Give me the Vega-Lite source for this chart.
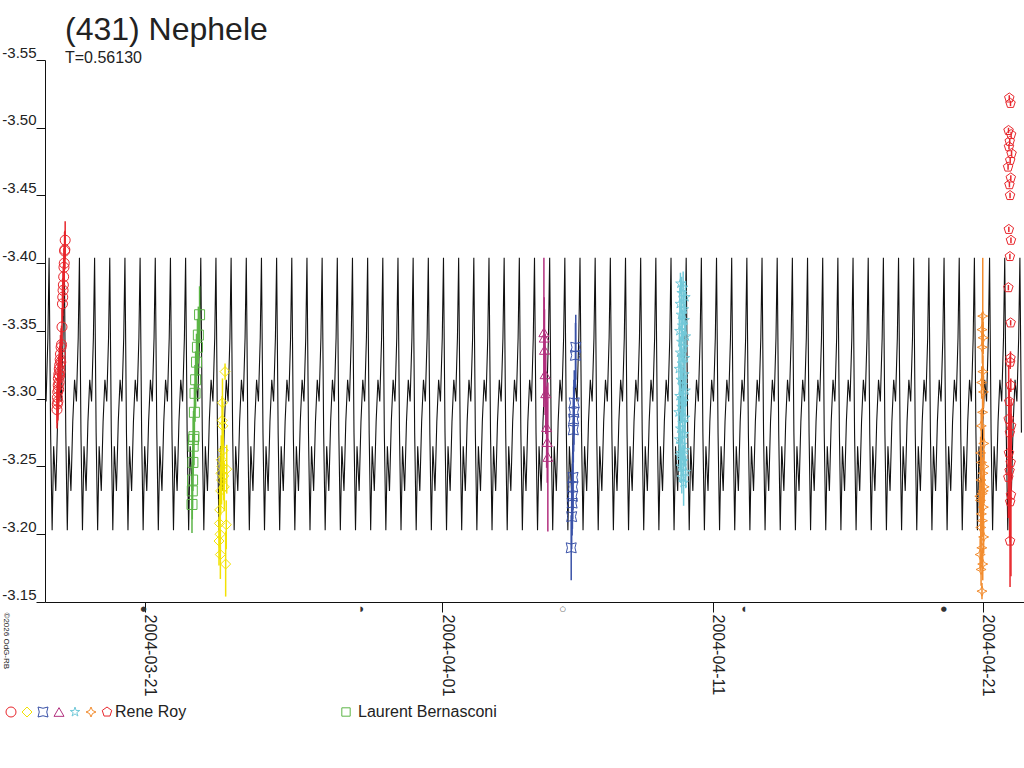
{
  "$schema": "https://vega.github.io/schema/vega-lite/v6.json",
  "width": 979,
  "height": 542,
  "autosize": "none",
  "padding": {"left": 45, "top": 60, "right": 0, "bottom": 166},
  "background": "white",
  "title": {
    "text": "(431) Nephele",
    "subtitle": "T=0.56130",
    "anchor": "start",
    "frame": "group",
    "dx": 20,
    "offset": -22,
    "font": "Liberation Sans",
    "fontSize": 32,
    "fontWeight": "normal",
    "color": "#222",
    "subtitleFont": "Liberation Sans",
    "subtitleFontSize": 16,
    "subtitleColor": "#222",
    "subtitlePadding": 3
  },
  "datasets": {
    "curve": [
      {"c":-0.2,"m":-3.298},{"c":-0.08,"m":-3.345},
      {"c":0,"m":-3.404},{"c":0.1,"m":-3.275},{"c":0.2,"m":-3.203},{"c":0.3,"m":-3.265},{"c":0.44,"m":-3.232},{"c":0.56,"m":-3.283},{"c":0.68,"m":-3.314},{"c":0.8,"m":-3.298},{"c":0.92,"m":-3.345},
      {"c":1,"m":-3.404},{"c":1.1,"m":-3.275},{"c":1.2,"m":-3.203},{"c":1.3,"m":-3.265},{"c":1.44,"m":-3.232},{"c":1.56,"m":-3.283},{"c":1.68,"m":-3.314},{"c":1.8,"m":-3.298},{"c":1.92,"m":-3.345},
      {"c":2,"m":-3.404},{"c":2.1,"m":-3.275},{"c":2.2,"m":-3.203},{"c":2.3,"m":-3.265},{"c":2.44,"m":-3.232},{"c":2.56,"m":-3.283},{"c":2.68,"m":-3.314},{"c":2.8,"m":-3.298},{"c":2.92,"m":-3.345},
      {"c":3,"m":-3.404},{"c":3.1,"m":-3.275},{"c":3.2,"m":-3.203},{"c":3.3,"m":-3.265},{"c":3.44,"m":-3.232},{"c":3.56,"m":-3.283},{"c":3.68,"m":-3.314},{"c":3.8,"m":-3.298},{"c":3.92,"m":-3.345},
      {"c":4,"m":-3.404},{"c":4.1,"m":-3.275},{"c":4.2,"m":-3.203},{"c":4.3,"m":-3.265},{"c":4.44,"m":-3.232},{"c":4.56,"m":-3.283},{"c":4.68,"m":-3.314},{"c":4.8,"m":-3.298},{"c":4.92,"m":-3.345},
      {"c":5,"m":-3.404},{"c":5.1,"m":-3.275},{"c":5.2,"m":-3.203},{"c":5.3,"m":-3.265},{"c":5.44,"m":-3.232},{"c":5.56,"m":-3.283},{"c":5.68,"m":-3.314},{"c":5.8,"m":-3.298},{"c":5.92,"m":-3.345},
      {"c":6,"m":-3.404},{"c":6.1,"m":-3.275},{"c":6.2,"m":-3.203},{"c":6.3,"m":-3.265},{"c":6.44,"m":-3.232},{"c":6.56,"m":-3.283},{"c":6.68,"m":-3.314},{"c":6.8,"m":-3.298},{"c":6.92,"m":-3.345},
      {"c":7,"m":-3.404},{"c":7.1,"m":-3.275},{"c":7.2,"m":-3.203},{"c":7.3,"m":-3.265},{"c":7.44,"m":-3.232},{"c":7.56,"m":-3.283},{"c":7.68,"m":-3.314},{"c":7.8,"m":-3.298},{"c":7.92,"m":-3.345},
      {"c":8,"m":-3.404},{"c":8.1,"m":-3.275},{"c":8.2,"m":-3.203},{"c":8.3,"m":-3.265},{"c":8.44,"m":-3.232},{"c":8.56,"m":-3.283},{"c":8.68,"m":-3.314},{"c":8.8,"m":-3.298},{"c":8.92,"m":-3.345},
      {"c":9,"m":-3.404},{"c":9.1,"m":-3.275},{"c":9.2,"m":-3.203},{"c":9.3,"m":-3.265},{"c":9.44,"m":-3.232},{"c":9.56,"m":-3.283},{"c":9.68,"m":-3.314},{"c":9.8,"m":-3.298},{"c":9.92,"m":-3.345},
      {"c":10,"m":-3.404},{"c":10.1,"m":-3.275},{"c":10.2,"m":-3.203},{"c":10.3,"m":-3.265},{"c":10.44,"m":-3.232},{"c":10.56,"m":-3.283},{"c":10.68,"m":-3.314},{"c":10.8,"m":-3.298},{"c":10.92,"m":-3.345},
      {"c":11,"m":-3.404},{"c":11.1,"m":-3.275},{"c":11.2,"m":-3.203},{"c":11.3,"m":-3.265},{"c":11.44,"m":-3.232},{"c":11.56,"m":-3.283},{"c":11.68,"m":-3.314},{"c":11.8,"m":-3.298},{"c":11.92,"m":-3.345},
      {"c":12,"m":-3.404},{"c":12.1,"m":-3.275},{"c":12.2,"m":-3.203},{"c":12.3,"m":-3.265},{"c":12.44,"m":-3.232},{"c":12.56,"m":-3.283},{"c":12.68,"m":-3.314},{"c":12.8,"m":-3.298},{"c":12.92,"m":-3.345},
      {"c":13,"m":-3.404},{"c":13.1,"m":-3.275},{"c":13.2,"m":-3.203},{"c":13.3,"m":-3.265},{"c":13.44,"m":-3.232},{"c":13.56,"m":-3.283},{"c":13.68,"m":-3.314},{"c":13.8,"m":-3.298},{"c":13.92,"m":-3.345},
      {"c":14,"m":-3.404},{"c":14.1,"m":-3.275},{"c":14.2,"m":-3.203},{"c":14.3,"m":-3.265},{"c":14.44,"m":-3.232},{"c":14.56,"m":-3.283},{"c":14.68,"m":-3.314},{"c":14.8,"m":-3.298},{"c":14.92,"m":-3.345},
      {"c":15,"m":-3.404},{"c":15.1,"m":-3.275},{"c":15.2,"m":-3.203},{"c":15.3,"m":-3.265},{"c":15.44,"m":-3.232},{"c":15.56,"m":-3.283},{"c":15.68,"m":-3.314},{"c":15.8,"m":-3.298},{"c":15.92,"m":-3.345},
      {"c":16,"m":-3.404},{"c":16.1,"m":-3.275},{"c":16.2,"m":-3.203},{"c":16.3,"m":-3.265},{"c":16.44,"m":-3.232},{"c":16.56,"m":-3.283},{"c":16.68,"m":-3.314},{"c":16.8,"m":-3.298},{"c":16.92,"m":-3.345},
      {"c":17,"m":-3.404},{"c":17.1,"m":-3.275},{"c":17.2,"m":-3.203},{"c":17.3,"m":-3.265},{"c":17.44,"m":-3.232},{"c":17.56,"m":-3.283},{"c":17.68,"m":-3.314},{"c":17.8,"m":-3.298},{"c":17.92,"m":-3.345},
      {"c":18,"m":-3.404},{"c":18.1,"m":-3.275},{"c":18.2,"m":-3.203},{"c":18.3,"m":-3.265},{"c":18.44,"m":-3.232},{"c":18.56,"m":-3.283},{"c":18.68,"m":-3.314},{"c":18.8,"m":-3.298},{"c":18.92,"m":-3.345},
      {"c":19,"m":-3.404},{"c":19.1,"m":-3.275},{"c":19.2,"m":-3.203},{"c":19.3,"m":-3.265},{"c":19.44,"m":-3.232},{"c":19.56,"m":-3.283},{"c":19.68,"m":-3.314},{"c":19.8,"m":-3.298},{"c":19.92,"m":-3.345},
      {"c":20,"m":-3.404},{"c":20.1,"m":-3.275},{"c":20.2,"m":-3.203},{"c":20.3,"m":-3.265},{"c":20.44,"m":-3.232},{"c":20.56,"m":-3.283},{"c":20.68,"m":-3.314},{"c":20.8,"m":-3.298},{"c":20.92,"m":-3.345},
      {"c":21,"m":-3.404},{"c":21.1,"m":-3.275},{"c":21.2,"m":-3.203},{"c":21.3,"m":-3.265},{"c":21.44,"m":-3.232},{"c":21.56,"m":-3.283},{"c":21.68,"m":-3.314},{"c":21.8,"m":-3.298},{"c":21.92,"m":-3.345},
      {"c":22,"m":-3.404},{"c":22.1,"m":-3.275},{"c":22.2,"m":-3.203},{"c":22.3,"m":-3.265},{"c":22.44,"m":-3.232},{"c":22.56,"m":-3.283},{"c":22.68,"m":-3.314},{"c":22.8,"m":-3.298},{"c":22.92,"m":-3.345},
      {"c":23,"m":-3.404},{"c":23.1,"m":-3.275},{"c":23.2,"m":-3.203},{"c":23.3,"m":-3.265},{"c":23.44,"m":-3.232},{"c":23.56,"m":-3.283},{"c":23.68,"m":-3.314},{"c":23.8,"m":-3.298},{"c":23.92,"m":-3.345},
      {"c":24,"m":-3.404},{"c":24.1,"m":-3.275},{"c":24.2,"m":-3.203},{"c":24.3,"m":-3.265},{"c":24.44,"m":-3.232},{"c":24.56,"m":-3.283},{"c":24.68,"m":-3.314},{"c":24.8,"m":-3.298},{"c":24.92,"m":-3.345},
      {"c":25,"m":-3.404},{"c":25.1,"m":-3.275},{"c":25.2,"m":-3.203},{"c":25.3,"m":-3.265},{"c":25.44,"m":-3.232},{"c":25.56,"m":-3.283},{"c":25.68,"m":-3.314},{"c":25.8,"m":-3.298},{"c":25.92,"m":-3.345},
      {"c":26,"m":-3.404},{"c":26.1,"m":-3.275},{"c":26.2,"m":-3.203},{"c":26.3,"m":-3.265},{"c":26.44,"m":-3.232},{"c":26.56,"m":-3.283},{"c":26.68,"m":-3.314},{"c":26.8,"m":-3.298},{"c":26.92,"m":-3.345},
      {"c":27,"m":-3.404},{"c":27.1,"m":-3.275},{"c":27.2,"m":-3.203},{"c":27.3,"m":-3.265},{"c":27.44,"m":-3.232},{"c":27.56,"m":-3.283},{"c":27.68,"m":-3.314},{"c":27.8,"m":-3.298},{"c":27.92,"m":-3.345},
      {"c":28,"m":-3.404},{"c":28.1,"m":-3.275},{"c":28.2,"m":-3.203},{"c":28.3,"m":-3.265},{"c":28.44,"m":-3.232},{"c":28.56,"m":-3.283},{"c":28.68,"m":-3.314},{"c":28.8,"m":-3.298},{"c":28.92,"m":-3.345},
      {"c":29,"m":-3.404},{"c":29.1,"m":-3.275},{"c":29.2,"m":-3.203},{"c":29.3,"m":-3.265},{"c":29.44,"m":-3.232},{"c":29.56,"m":-3.283},{"c":29.68,"m":-3.314},{"c":29.8,"m":-3.298},{"c":29.92,"m":-3.345},
      {"c":30,"m":-3.404},{"c":30.1,"m":-3.275},{"c":30.2,"m":-3.203},{"c":30.3,"m":-3.265},{"c":30.44,"m":-3.232},{"c":30.56,"m":-3.283},{"c":30.68,"m":-3.314},{"c":30.8,"m":-3.298},{"c":30.92,"m":-3.345},
      {"c":31,"m":-3.404},{"c":31.1,"m":-3.275},{"c":31.2,"m":-3.203},{"c":31.3,"m":-3.265},{"c":31.44,"m":-3.232},{"c":31.56,"m":-3.283},{"c":31.68,"m":-3.314},{"c":31.8,"m":-3.298},{"c":31.92,"m":-3.345},
      {"c":32,"m":-3.404},{"c":32.1,"m":-3.275},{"c":32.2,"m":-3.203},{"c":32.3,"m":-3.265},{"c":32.44,"m":-3.232},{"c":32.56,"m":-3.283},{"c":32.68,"m":-3.314},{"c":32.8,"m":-3.298},{"c":32.92,"m":-3.345},
      {"c":33,"m":-3.404},{"c":33.1,"m":-3.275},{"c":33.2,"m":-3.203},{"c":33.3,"m":-3.265},{"c":33.44,"m":-3.232},{"c":33.56,"m":-3.283},{"c":33.68,"m":-3.314},{"c":33.8,"m":-3.298},{"c":33.92,"m":-3.345},
      {"c":34,"m":-3.404},{"c":34.1,"m":-3.275},{"c":34.2,"m":-3.203},{"c":34.3,"m":-3.265},{"c":34.44,"m":-3.232},{"c":34.56,"m":-3.283},{"c":34.68,"m":-3.314},{"c":34.8,"m":-3.298},{"c":34.92,"m":-3.345},
      {"c":35,"m":-3.404},{"c":35.1,"m":-3.275},{"c":35.2,"m":-3.203},{"c":35.3,"m":-3.265},{"c":35.44,"m":-3.232},{"c":35.56,"m":-3.283},{"c":35.68,"m":-3.314},{"c":35.8,"m":-3.298},{"c":35.92,"m":-3.345},
      {"c":36,"m":-3.404},{"c":36.1,"m":-3.275},{"c":36.2,"m":-3.203},{"c":36.3,"m":-3.265},{"c":36.44,"m":-3.232},{"c":36.56,"m":-3.283},{"c":36.68,"m":-3.314},{"c":36.8,"m":-3.298},{"c":36.92,"m":-3.345},
      {"c":37,"m":-3.404},{"c":37.1,"m":-3.275},{"c":37.2,"m":-3.203},{"c":37.3,"m":-3.265},{"c":37.44,"m":-3.232},{"c":37.56,"m":-3.283},{"c":37.68,"m":-3.314},{"c":37.8,"m":-3.298},{"c":37.92,"m":-3.345},
      {"c":38,"m":-3.404},{"c":38.1,"m":-3.275},{"c":38.2,"m":-3.203},{"c":38.3,"m":-3.265},{"c":38.44,"m":-3.232},{"c":38.56,"m":-3.283},{"c":38.68,"m":-3.314},{"c":38.8,"m":-3.298},{"c":38.92,"m":-3.345},
      {"c":39,"m":-3.404},{"c":39.1,"m":-3.275},{"c":39.2,"m":-3.203},{"c":39.3,"m":-3.265},{"c":39.44,"m":-3.232},{"c":39.56,"m":-3.283},{"c":39.68,"m":-3.314},{"c":39.8,"m":-3.298},{"c":39.92,"m":-3.345},
      {"c":40,"m":-3.404},{"c":40.1,"m":-3.275},{"c":40.2,"m":-3.203},{"c":40.3,"m":-3.265},{"c":40.44,"m":-3.232},{"c":40.56,"m":-3.283},{"c":40.68,"m":-3.314},{"c":40.8,"m":-3.298},{"c":40.92,"m":-3.345},
      {"c":41,"m":-3.404},{"c":41.1,"m":-3.275},{"c":41.2,"m":-3.203},{"c":41.3,"m":-3.265},{"c":41.44,"m":-3.232},{"c":41.56,"m":-3.283},{"c":41.68,"m":-3.314},{"c":41.8,"m":-3.298},{"c":41.92,"m":-3.345},
      {"c":42,"m":-3.404},{"c":42.1,"m":-3.275},{"c":42.2,"m":-3.203},{"c":42.3,"m":-3.265},{"c":42.44,"m":-3.232},{"c":42.56,"m":-3.283},{"c":42.68,"m":-3.314},{"c":42.8,"m":-3.298},{"c":42.92,"m":-3.345},
      {"c":43,"m":-3.404},{"c":43.1,"m":-3.275},{"c":43.2,"m":-3.203},{"c":43.3,"m":-3.265},{"c":43.44,"m":-3.232},{"c":43.56,"m":-3.283},{"c":43.68,"m":-3.314},{"c":43.8,"m":-3.298},{"c":43.92,"m":-3.345},
      {"c":44,"m":-3.404},{"c":44.1,"m":-3.275},{"c":44.2,"m":-3.203},{"c":44.3,"m":-3.265},{"c":44.44,"m":-3.232},{"c":44.56,"m":-3.283},{"c":44.68,"m":-3.314},{"c":44.8,"m":-3.298},{"c":44.92,"m":-3.345},
      {"c":45,"m":-3.404},{"c":45.1,"m":-3.275},{"c":45.2,"m":-3.203},{"c":45.3,"m":-3.265},{"c":45.44,"m":-3.232},{"c":45.56,"m":-3.283},{"c":45.68,"m":-3.314},{"c":45.8,"m":-3.298},{"c":45.92,"m":-3.345},
      {"c":46,"m":-3.404},{"c":46.1,"m":-3.275},{"c":46.2,"m":-3.203},{"c":46.3,"m":-3.265},{"c":46.44,"m":-3.232},{"c":46.56,"m":-3.283},{"c":46.68,"m":-3.314},{"c":46.8,"m":-3.298},{"c":46.92,"m":-3.345},
      {"c":47,"m":-3.404},{"c":47.1,"m":-3.275},{"c":47.2,"m":-3.203},{"c":47.3,"m":-3.265},{"c":47.44,"m":-3.232},{"c":47.56,"m":-3.283},{"c":47.68,"m":-3.314},{"c":47.8,"m":-3.298},{"c":47.92,"m":-3.345},
      {"c":48,"m":-3.404},{"c":48.1,"m":-3.275},{"c":48.2,"m":-3.203},{"c":48.3,"m":-3.265},{"c":48.44,"m":-3.232},{"c":48.56,"m":-3.283},{"c":48.68,"m":-3.314},{"c":48.8,"m":-3.298},{"c":48.92,"m":-3.345},
      {"c":49,"m":-3.404},{"c":49.1,"m":-3.275},{"c":49.2,"m":-3.203},{"c":49.3,"m":-3.265},{"c":49.44,"m":-3.232},{"c":49.56,"m":-3.283},{"c":49.68,"m":-3.314},{"c":49.8,"m":-3.298},{"c":49.92,"m":-3.345},
      {"c":50,"m":-3.404},{"c":50.1,"m":-3.275},{"c":50.2,"m":-3.203},{"c":50.3,"m":-3.265},{"c":50.44,"m":-3.232},{"c":50.56,"m":-3.283},{"c":50.68,"m":-3.314},{"c":50.8,"m":-3.298},{"c":50.92,"m":-3.345},
      {"c":51,"m":-3.404},{"c":51.1,"m":-3.275},{"c":51.2,"m":-3.203},{"c":51.3,"m":-3.265},{"c":51.44,"m":-3.232},{"c":51.56,"m":-3.283},{"c":51.68,"m":-3.314},{"c":51.8,"m":-3.298},{"c":51.92,"m":-3.345},
      {"c":52,"m":-3.404},{"c":52.1,"m":-3.275},{"c":52.2,"m":-3.203},{"c":52.3,"m":-3.265},{"c":52.44,"m":-3.232},{"c":52.56,"m":-3.283},{"c":52.68,"m":-3.314},{"c":52.8,"m":-3.298},{"c":52.92,"m":-3.345},
      {"c":53,"m":-3.404},{"c":53.1,"m":-3.275},{"c":53.2,"m":-3.203},{"c":53.3,"m":-3.265},{"c":53.44,"m":-3.232},{"c":53.56,"m":-3.283},{"c":53.68,"m":-3.314},{"c":53.8,"m":-3.298},{"c":53.92,"m":-3.345},
      {"c":54,"m":-3.404},{"c":54.1,"m":-3.275},{"c":54.2,"m":-3.203},{"c":54.3,"m":-3.265},{"c":54.44,"m":-3.232},{"c":54.56,"m":-3.283},{"c":54.68,"m":-3.314},{"c":54.8,"m":-3.298},{"c":54.92,"m":-3.345},
      {"c":55,"m":-3.404},{"c":55.1,"m":-3.275},{"c":55.2,"m":-3.203},{"c":55.3,"m":-3.265},{"c":55.44,"m":-3.232},{"c":55.56,"m":-3.283},{"c":55.68,"m":-3.314},{"c":55.8,"m":-3.298},{"c":55.92,"m":-3.345},
      {"c":56,"m":-3.404},{"c":56.1,"m":-3.275},{"c":56.2,"m":-3.203},{"c":56.3,"m":-3.265},{"c":56.44,"m":-3.232},{"c":56.56,"m":-3.283},{"c":56.68,"m":-3.314},{"c":56.8,"m":-3.298},{"c":56.92,"m":-3.345},
      {"c":57,"m":-3.404},{"c":57.1,"m":-3.275},{"c":57.2,"m":-3.203},{"c":57.3,"m":-3.265},{"c":57.44,"m":-3.232},{"c":57.56,"m":-3.283},{"c":57.68,"m":-3.314},{"c":57.8,"m":-3.298},{"c":57.92,"m":-3.345},
      {"c":58,"m":-3.404},{"c":58.1,"m":-3.275},{"c":58.2,"m":-3.203},{"c":58.3,"m":-3.265},{"c":58.44,"m":-3.232},{"c":58.56,"m":-3.283},{"c":58.68,"m":-3.314},{"c":58.8,"m":-3.298},{"c":58.92,"m":-3.345},
      {"c":59,"m":-3.404},{"c":59.1,"m":-3.275},{"c":59.2,"m":-3.203},{"c":59.3,"m":-3.265},{"c":59.44,"m":-3.232},{"c":59.56,"m":-3.283},{"c":59.68,"m":-3.314},{"c":59.8,"m":-3.298},{"c":59.92,"m":-3.345},
      {"c":60,"m":-3.404},{"c":60.1,"m":-3.275},{"c":60.2,"m":-3.203},{"c":60.3,"m":-3.265},{"c":60.44,"m":-3.232},{"c":60.56,"m":-3.283},{"c":60.68,"m":-3.314},{"c":60.8,"m":-3.298},{"c":60.92,"m":-3.345},
      {"c":61,"m":-3.404},{"c":61.1,"m":-3.275},{"c":61.2,"m":-3.203},{"c":61.3,"m":-3.265},{"c":61.44,"m":-3.232},{"c":61.56,"m":-3.283},{"c":61.68,"m":-3.314},{"c":61.8,"m":-3.298},{"c":61.92,"m":-3.345},
      {"c":62,"m":-3.404},{"c":62.1,"m":-3.275},{"c":62.2,"m":-3.203},{"c":62.3,"m":-3.265},{"c":62.44,"m":-3.232},{"c":62.56,"m":-3.283},{"c":62.68,"m":-3.314},{"c":62.8,"m":-3.298},{"c":62.92,"m":-3.345},
      {"c":63,"m":-3.404},{"c":63.1,"m":-3.275},{"c":63.2,"m":-3.203},{"c":63.3,"m":-3.265},{"c":63.44,"m":-3.232},{"c":63.56,"m":-3.283},{"c":63.68,"m":-3.314},{"c":63.8,"m":-3.298},{"c":63.92,"m":-3.345},
      {"c":64,"m":-3.404},{"c":64.1,"m":-3.275}
    ],
    "rr": [
      {"c":0.52,"m":-3.292,"e":0.014,"s":"1"},{"c":0.54,"m":-3.296,"e":0.014,"s":"1"},{"c":0.55,"m":-3.301,"e":0.014,"s":"1"},{"c":0.57,"m":-3.305,"e":0.014,"s":"1"},{"c":0.58,"m":-3.298,"e":0.014,"s":"1"},{"c":0.6,"m":-3.31,"e":0.014,"s":"1"},{"c":0.61,"m":-3.315,"e":0.014,"s":"1"},{"c":0.63,"m":-3.307,"e":0.014,"s":"1"},{"c":0.64,"m":-3.318,"e":0.014,"s":"1"},{"c":0.66,"m":-3.312,"e":0.014,"s":"1"},
      {"c":0.67,"m":-3.322,"e":0.014,"s":"1"},{"c":0.69,"m":-3.317,"e":0.014,"s":"1"},{"c":0.7,"m":-3.325,"e":0.014,"s":"1"},{"c":0.72,"m":-3.32,"e":0.014,"s":"1"},{"c":0.73,"m":-3.329,"e":0.014,"s":"1"},{"c":0.75,"m":-3.333,"e":0.014,"s":"1"},{"c":0.77,"m":-3.327,"e":0.014,"s":"1"},{"c":0.79,"m":-3.338,"e":0.014,"s":"1"},{"c":0.82,"m":-3.34,"e":0.014,"s":"1"},{"c":0.85,"m":-3.353,"e":0.014,"s":"1"},
      {"c":0.88,"m":-3.37,"e":0.014,"s":"1"},{"c":0.9,"m":-3.375,"e":0.014,"s":"1"},{"c":0.92,"m":-3.38,"e":0.014,"s":"1"},{"c":0.94,"m":-3.384,"e":0.014,"s":"1"},{"c":0.96,"m":-3.39,"e":0.014,"s":"1"},{"c":0.98,"m":-3.397,"e":0.014,"s":"1"},{"c":1,"m":-3.4,"e":0.014,"s":"1"},{"c":1.02,"m":-3.409,"e":0.014,"s":"1"},{"c":1.04,"m":-3.41,"e":0.014,"s":"1"},{"c":1.06,"m":-3.417,"e":0.014,"s":"1"},
      {"c":11.2,"m":-3.195,"e":0.018,"s":"2"},{"c":11.23,"m":-3.208,"e":0.018,"s":"2"},{"c":11.25,"m":-3.218,"e":0.018,"s":"2"},{"c":11.27,"m":-3.2,"e":0.018,"s":"2"},{"c":11.29,"m":-3.185,"e":0.018,"s":"2"},{"c":11.31,"m":-3.232,"e":0.018,"s":"2"},{"c":11.33,"m":-3.245,"e":0.018,"s":"2"},{"c":11.35,"m":-3.255,"e":0.018,"s":"2"},{"c":11.37,"m":-3.24,"e":0.018,"s":"2"},{"c":11.39,"m":-3.25,"e":0.018,"s":"2"},
      {"c":11.41,"m":-3.284,"e":0.018,"s":"2"},{"c":11.43,"m":-3.297,"e":0.018,"s":"2"},{"c":11.45,"m":-3.28,"e":0.018,"s":"2"},{"c":11.48,"m":-3.262,"e":0.018,"s":"2"},{"c":11.51,"m":-3.243,"e":0.018,"s":"2"},{"c":11.55,"m":-3.235,"e":0.018,"s":"2"},{"c":11.6,"m":-3.32,"e":0.006,"s":"2"},{"c":11.64,"m":-3.178,"e":0.024,"s":"2"},{"c":11.68,"m":-3.207,"e":0.018,"s":"2"},{"c":11.71,"m":-3.248,"e":0.018,"s":"2"},
      {"c":34.42,"m":-3.19,"e":0.024,"s":"3"},{"c":34.45,"m":-3.213,"e":0.024,"s":"3"},{"c":34.48,"m":-3.223,"e":0.024,"s":"3"},{"c":34.5,"m":-3.228,"e":0.024,"s":"3"},{"c":34.52,"m":-3.235,"e":0.024,"s":"3"},{"c":34.54,"m":-3.242,"e":0.024,"s":"3"},{"c":34.56,"m":-3.277,"e":0.024,"s":"3"},{"c":34.58,"m":-3.285,"e":0.024,"s":"3"},{"c":34.6,"m":-3.29,"e":0.024,"s":"3"},{"c":34.62,"m":-3.297,"e":0.024,"s":"3"},{"c":34.7,"m":-3.332,"e":0.024,"s":"3"},{"c":34.72,"m":-3.338,"e":0.024,"s":"3"},
      {"c":32.62,"m":-3.349,"e":0.055,"s":"4"},{"c":32.64,"m":-3.345,"e":0.03,"s":"4"},{"c":32.66,"m":-3.336,"e":0.03,"s":"4"},{"c":32.7,"m":-3.318,"e":0.03,"s":"4"},{"c":32.74,"m":-3.304,"e":0.03,"s":"4"},{"c":32.8,"m":-3.279,"e":0.03,"s":"4"},{"c":32.84,"m":-3.268,"e":0.03,"s":"4"},{"c":32.88,"m":-3.257,"e":0.055,"s":"4"},
      {"c":41.62,"m":-3.385,"e":0.008,"s":"5"},{"c":41.8,"m":-3.382,"e":0.012,"s":"5"},{"c":41.7,"m":-3.378,"e":0.012,"s":"5"},{"c":41.95,"m":-3.375,"e":0.012,"s":"5"},{"c":41.58,"m":-3.37,"e":0.012,"s":"5"},{"c":41.85,"m":-3.366,"e":0.012,"s":"5"},{"c":41.66,"m":-3.362,"e":0.012,"s":"5"},{"c":41.9,"m":-3.358,"e":0.012,"s":"5"},{"c":41.74,"m":-3.354,"e":0.012,"s":"5"},{"c":41.55,"m":-3.35,"e":0.012,"s":"5"},
      {"c":41.98,"m":-3.346,"e":0.012,"s":"5"},{"c":41.68,"m":-3.342,"e":0.012,"s":"5"},{"c":41.82,"m":-3.338,"e":0.012,"s":"5"},{"c":41.6,"m":-3.334,"e":0.012,"s":"5"},{"c":41.92,"m":-3.33,"e":0.012,"s":"5"},{"c":41.72,"m":-3.326,"e":0.012,"s":"5"},{"c":41.52,"m":-3.322,"e":0.012,"s":"5"},{"c":41.88,"m":-3.318,"e":0.012,"s":"5"},{"c":41.64,"m":-3.314,"e":0.012,"s":"5"},{"c":41.78,"m":-3.31,"e":0.012,"s":"5"},
      {"c":41.96,"m":-3.306,"e":0.012,"s":"5"},{"c":41.56,"m":-3.302,"e":0.012,"s":"5"},{"c":41.84,"m":-3.298,"e":0.012,"s":"5"},{"c":41.69,"m":-3.294,"e":0.012,"s":"5"},{"c":41.5,"m":-3.29,"e":0.012,"s":"5"},{"c":41.93,"m":-3.286,"e":0.012,"s":"5"},{"c":41.76,"m":-3.282,"e":0.012,"s":"5"},{"c":41.61,"m":-3.278,"e":0.012,"s":"5"},{"c":41.87,"m":-3.274,"e":0.012,"s":"5"},{"c":41.54,"m":-3.27,"e":0.012,"s":"5"},
      {"c":41.73,"m":-3.266,"e":0.012,"s":"5"},{"c":41.91,"m":-3.262,"e":0.012,"s":"5"},{"c":41.59,"m":-3.258,"e":0.012,"s":"5"},{"c":41.81,"m":-3.254,"e":0.012,"s":"5"},{"c":41.66,"m":-3.25,"e":0.012,"s":"5"},{"c":41.97,"m":-3.246,"e":0.012,"s":"5"},{"c":41.71,"m":-3.242,"e":0.012,"s":"5"},{"c":41.83,"m":-3.238,"e":0.017,"s":"5"},{"c":41.63,"m":-3.26,"e":0.012,"s":"5"},{"c":41.75,"m":-3.3,"e":0.012,"s":"5"},
      {"c":61.55,"m":-3.361,"e":0.043,"s":"6"},{"c":61.5,"m":-3.351,"e":0.012,"s":"6"},{"c":61.58,"m":-3.345,"e":0.012,"s":"6"},{"c":61.52,"m":-3.338,"e":0.012,"s":"6"},{"c":61.56,"m":-3.32,"e":0.012,"s":"6"},{"c":61.48,"m":-3.312,"e":0.012,"s":"6"},{"c":61.6,"m":-3.305,"e":0.012,"s":"6"},{"c":61.54,"m":-3.29,"e":0.012,"s":"6"},{"c":61.45,"m":-3.28,"e":0.012,"s":"6"},{"c":61.62,"m":-3.267,"e":0.012,"s":"6"},
      {"c":61.47,"m":-3.253,"e":0.012,"s":"6"},{"c":61.57,"m":-3.245,"e":0.012,"s":"6"},{"c":61.43,"m":-3.24,"e":0.012,"s":"6"},{"c":61.64,"m":-3.235,"e":0.012,"s":"6"},{"c":61.51,"m":-3.23,"e":0.012,"s":"6"},{"c":61.4,"m":-3.225,"e":0.012,"s":"6"},{"c":61.59,"m":-3.22,"e":0.012,"s":"6"},{"c":61.46,"m":-3.215,"e":0.012,"s":"6"},{"c":61.53,"m":-3.21,"e":0.012,"s":"6"},{"c":61.42,"m":-3.205,"e":0.012,"s":"6"},
      {"c":61.61,"m":-3.198,"e":0.012,"s":"6"},{"c":61.49,"m":-3.19,"e":0.012,"s":"6"},{"c":61.38,"m":-3.185,"e":0.012,"s":"6"},{"c":61.55,"m":-3.178,"e":0.012,"s":"6"},{"c":61.44,"m":-3.174,"e":0.012,"s":"6"},{"c":61.5,"m":-3.158,"e":0.006,"s":"6"},{"c":61.36,"m":-3.228,"e":0.012,"s":"6"},{"c":61.58,"m":-3.232,"e":0.012,"s":"6"},{"c":61.63,"m":-3.25,"e":0.012,"s":"6"},{"c":61.41,"m":-3.26,"e":0.012,"s":"6"},
      {"c":63.3,"m":-3.522,"e":0.002,"s":"7"},{"c":63.38,"m":-3.518,"e":0.002,"s":"7"},{"c":63.25,"m":-3.498,"e":0.002,"s":"7"},{"c":63.42,"m":-3.495,"e":0.002,"s":"7"},{"c":63.33,"m":-3.49,"e":0.002,"s":"7"},{"c":63.28,"m":-3.486,"e":0.002,"s":"7"},{"c":63.45,"m":-3.481,"e":0.002,"s":"7"},{"c":63.36,"m":-3.476,"e":0.002,"s":"7"},{"c":63.22,"m":-3.471,"e":0.002,"s":"7"},{"c":63.4,"m":-3.463,"e":0.002,"s":"7"},
      {"c":63.31,"m":-3.458,"e":0.002,"s":"7"},{"c":63.35,"m":-3.45,"e":0.002,"s":"7"},{"c":63.27,"m":-3.425,"e":0.002,"s":"7"},{"c":63.41,"m":-3.417,"e":0.002,"s":"7"},{"c":63.34,"m":-3.405,"e":0.002,"s":"7"},{"c":63.24,"m":-3.382,"e":0.002,"s":"7"},{"c":63.39,"m":-3.356,"e":0.002,"s":"7"},
      {"c":63.38,"m":-3.33,"e":0.005,"s":"7"},{"c":63.36,"m":-3.327,"e":0.005,"s":"7"},{"c":63.4,"m":-3.31,"e":0.005,"s":"7"},{"c":63.3,"m":-3.298,"e":0.01,"s":"7"},{"c":63.26,"m":-3.285,"e":0.04,"s":"7"},{"c":63.42,"m":-3.28,"e":0.02,"s":"7"},{"c":63.34,"m":-3.275,"e":0.02,"s":"7"},
      {"c":63.28,"m":-3.26,"e":0.02,"s":"7"},{"c":63.39,"m":-3.253,"e":0.03,"s":"7"},{"c":63.32,"m":-3.247,"e":0.05,"s":"7"},{"c":63.24,"m":-3.242,"e":0.03,"s":"7"},{"c":63.41,"m":-3.229,"e":0.06,"s":"7"},{"c":63.36,"m":-3.224,"e":0.03,"s":"7"},{"c":63.35,"m":-3.195,"e":0.034,"s":"7"}
    ],
    "lb": [
      {"c":9.42,"m":-3.222,"e":0.021,"o":"Laurent Bernasconi"},{"c":9.44,"m":-3.232,"e":0.021,"o":"Laurent Bernasconi"},{"c":9.46,"m":-3.24,"e":0.021,"o":"Laurent Bernasconi"},{"c":9.48,"m":-3.253,"e":0.021,"o":"Laurent Bernasconi"},{"c":9.5,"m":-3.265,"e":0.021,"o":"Laurent Bernasconi"},{"c":9.52,"m":-3.27,"e":0.021,"o":"Laurent Bernasconi"},{"c":9.55,"m":-3.272,"e":0.021,"o":"Laurent Bernasconi"},
      {"c":9.58,"m":-3.29,"e":0.021,"o":"Laurent Bernasconi"},{"c":9.62,"m":-3.304,"e":0.021,"o":"Laurent Bernasconi"},{"c":9.66,"m":-3.314,"e":0.021,"o":"Laurent Bernasconi"},{"c":9.72,"m":-3.327,"e":0.021,"o":"Laurent Bernasconi"},{"c":9.78,"m":-3.338,"e":0.021,"o":"Laurent Bernasconi"},{"c":9.84,"m":-3.347,"e":0.021,"o":"Laurent Bernasconi"},{"c":9.92,"m":-3.362,"e":0.021,"o":"Laurent Bernasconi"}
    ],
    "moon": [
      {"c":6.23,"g":"●"},{"c":20.6,"g":"◗"},{"c":33.86,"g":"○"},{"c":45.8,"g":"◖"},{"c":58.98,"g":"●"}
    ]
  },
  "layer": [
    {
      "data": {"name": "curve"},
      "mark": {"type": "line", "color": "#111", "strokeWidth": 1.1},
      "encoding": {
        "x": {
          "field": "c", "type": "quantitative",
          "scale": {"domain": [-0.27, 64.27], "nice": false, "zero": false},
          "axis": {
            "values": [6.32, 25.93, 43.74, 61.55],
            "labelExpr": "datum.value < 10 ? '2004-03-21' : datum.value < 30 ? '2004-04-01' : datum.value < 50 ? '2004-04-11' : '2004-04-21'",
            "labelAngle": 90, "labelAlign": "left", "labelBaseline": "alphabetic",
            "labelFont": "Liberation Sans", "labelFontSize": 16, "labelColor": "#222",
            "labelPadding": 2, "labelFlush": false, "labelOverlap": false,
            "tickSize": 10, "tickColor": "#111", "domainColor": "#111", "grid": false,
            "title": "©2026 OdG-RB", "titleAngle": 90, "titleX": -42, "titleY": 10,
            "titleAlign": "left", "titleBaseline": "alphabetic",
            "titleFont": "Liberation Sans", "titleFontSize": 8, "titleFontWeight": "normal", "titleColor": "#222"
          }
        },
        "y": {
          "field": "m", "type": "quantitative",
          "scale": {"domain": [-3.55, -3.15], "reverse": true, "nice": false, "zero": false},
          "axis": {
            "values": [-3.55, -3.5, -3.45, -3.4, -3.35, -3.3, -3.25, -3.2, -3.15],
            "labelExpr": "replace(format(datum.value, '.2f'), '\u2212', '-')",
            "labelBaseline": "bottom", "labelFont": "Liberation Sans", "labelFontSize": 15,
            "labelColor": "#222", "labelPadding": 0, "labelFlush": false, "labelOverlap": false,
            "tickSize": 9, "tickColor": "#111", "domainColor": "#111", "grid": false, "title": null
          }
        }
      }
    },
    {
      "data": {"name": "rr"},
      "encoding": {
        "x": {"field": "c", "type": "quantitative"},
        "y": {"field": "m", "type": "quantitative"}
      },
      "layer": [
        {"transform": [{"filter": "datum.s == '1'"}], "mark": {"type": "errorbar", "thickness": 1.5, "color": "#e8262c"}, "encoding": {"yError": {"field": "e"}}},
        {"transform": [{"filter": "datum.s == '2'"}], "mark": {"type": "errorbar", "thickness": 1.5, "color": "#f2e205"}, "encoding": {"yError": {"field": "e"}}},
        {"transform": [{"filter": "datum.s == '3'"}], "mark": {"type": "errorbar", "thickness": 1.5, "color": "#3a52a8"}, "encoding": {"yError": {"field": "e"}}},
        {"transform": [{"filter": "datum.s == '4'"}], "mark": {"type": "errorbar", "thickness": 1.5, "color": "#b2307e"}, "encoding": {"yError": {"field": "e"}}},
        {"transform": [{"filter": "datum.s == '5'"}], "mark": {"type": "errorbar", "thickness": 1.5, "color": "#72c9d9"}, "encoding": {"yError": {"field": "e"}}},
        {"transform": [{"filter": "datum.s == '6'"}], "mark": {"type": "errorbar", "thickness": 1.5, "color": "#f28c2e"}, "encoding": {"yError": {"field": "e"}}},
        {"transform": [{"filter": "datum.s == '7'"}], "mark": {"type": "errorbar", "thickness": 1.5, "color": "#e8262c"}, "encoding": {"yError": {"field": "e"}}},
        {
          "mark": {"type": "point", "filled": false, "size": 100, "strokeWidth": 1, "opacity": 1},
          "encoding": {
            "color": {
              "field": "s", "type": "nominal",
              "scale": {"domain": ["1","2","3","4","5","6","7"], "range": ["#e8262c","#f2e205","#3a52a8","#b2307e","#72c9d9","#f28c2e","#e8262c"]},
              "legend": {
                "orient": "none", "legendX": -42, "legendY": 644, "direction": "horizontal", "title": null,
                "labelExpr": "datum.label == '7' ? 'Rene Roy' : ''",
                "labelFont": "Liberation Sans", "labelFontSize": 16, "labelColor": "#222",
                "labelOffset": 0, "columnPadding": 0, "symbolOffset": 0, "symbolSize": 100, "symbolStrokeWidth": 1, "padding": 0
              }
            },
            "shape": {
              "field": "s", "type": "nominal",
              "scale": {"domain": ["1","2","3","4","5","6","7"], "range": ["circle","diamond","M-1,-1Q0,-0.5,1,-1Q0.5,0,1,1Q0,0.5,-1,1Q-0.5,0,-1,-1Z","triangle-up","M0,-1L0.223,-0.307L0.951,-0.309L0.361,0.117L0.588,0.809L0,0.38L-0.588,0.809L-0.361,0.117L-0.951,-0.309L-0.223,-0.307Z","M0,-1L0.3,-0.3L1,0L0.3,0.3L0,1L-0.3,0.3L-1,0L-0.3,-0.3Z","M0,-1L0.951,-0.309L0.588,0.809L-0.588,0.809L-0.951,-0.309Z"]},
              "legend": {
                "orient": "none", "legendX": -42, "legendY": 644, "direction": "horizontal", "title": null,
                "labelExpr": "datum.label == '7' ? 'Rene Roy' : ''",
                "labelFont": "Liberation Sans", "labelFontSize": 16, "labelColor": "#222",
                "labelOffset": 0, "columnPadding": 0, "symbolOffset": 0, "symbolSize": 100, "symbolStrokeWidth": 1, "padding": 0
              }
            }
          }
        }
      ]
    },
    {
      "data": {"name": "lb"},
      "encoding": {
        "x": {"field": "c", "type": "quantitative"},
        "y": {"field": "m", "type": "quantitative"}
      },
      "layer": [
        {"mark": {"type": "errorbar", "thickness": 1.5, "color": "#5cb547"}, "encoding": {"yError": {"field": "e"}}},
        {
          "mark": {"type": "point", "filled": false, "size": 100, "strokeWidth": 1, "opacity": 1},
          "encoding": {
            "color": {
              "field": "o", "type": "nominal", "scale": {"range": ["#5cb547"]},
              "legend": {
                "orient": "none", "legendX": 293, "legendY": 644, "title": null,
                "labelFont": "Liberation Sans", "labelFontSize": 16, "labelColor": "#222",
                "labelOffset": 4, "symbolSize": 70, "symbolStrokeWidth": 1, "padding": 0
              }
            },
            "shape": {
              "field": "o", "type": "nominal", "scale": {"range": ["square"]},
              "legend": {
                "orient": "none", "legendX": 293, "legendY": 644, "title": null,
                "labelFont": "Liberation Sans", "labelFontSize": 16, "labelColor": "#222",
                "labelOffset": 4, "symbolSize": 70, "symbolStrokeWidth": 1, "padding": 0
              }
            }
          }
        }
      ]
    },
    {
      "data": {"name": "moon"},
      "mark": {"type": "text", "font": "DejaVu Sans", "fontSize": 7, "baseline": "top", "dy": 3, "color": "#333"},
      "encoding": {
        "x": {"field": "c", "type": "quantitative"},
        "y": {"datum": -3.15},
        "text": {"field": "g"}
      }
    }
  ],
  "resolve": {"scale": {"color": "independent", "shape": "independent"}},
  "config": {"view": {"stroke": null}, "font": "Liberation Sans"}
}
